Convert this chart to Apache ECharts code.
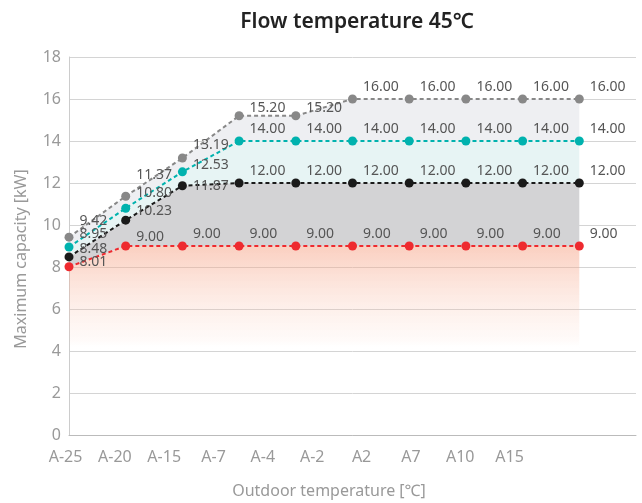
<!DOCTYPE html>
<html><head><meta charset="utf-8">
<script src="https://cdn.jsdelivr.net/npm/echarts@6/dist/echarts.min.js"></script>
<style>html,body{margin:0;padding:0;background:#fff}#c{width:642px;height:503px}</style>
</head><body><div id="c"></div>
<script>
const categories = ['A-25','A-20','A-15','A-7','A-4','A-2','A2','A7','A10','A15'];
const grayValues = [9.42, 11.37, 13.19, 15.20, 15.20, 16.00, 16.00, 16.00, 16.00, 16.00];
const cyanValues = [8.95, 10.80, 12.53, 14.00, 14.00, 14.00, 14.00, 14.00, 14.00, 14.00];
const blackValues = [8.48, 10.23, 11.87, 12.00, 12.00, 12.00, 12.00, 12.00, 12.00, 12.00];
const redValues = [8.01, 9.00, 9.00, 9.00, 9.00, 9.00, 9.00, 9.00, 9.00, 9.00];
const yTicks = [0, 2, 4, 6, 8, 10, 12, 14, 16, 18];

// label vertical offsets (style only)
const labelDy = {
  gray: {0: -4, 1: -9, 2: -1, 3: 4, 4: 4},
  cyan: {0: -1, 1: -3, 2: 5},
  black: {0: 4, 1: 3, 2: 12},
  red: {0: 7, 1: 3}
};

const FONT = 'Noto Sans';
const plotCats = categories.concat(['']);

function lineSeries(name, vals, color, key) {
  return {
    name, type: 'line', xAxisIndex: 0, yAxisIndex: 0, z: 5,
    data: vals.map((v, i) => ({
      value: v,
      label: { offset: [0, -12 + (labelDy[key][i] || 0)] }
    })),
    symbol: 'circle', symbolSize: 9,
    itemStyle: { color },
    lineStyle: { color, width: 2, type: [4, 3] },
    label: {
      show: true, position: 'right', distance: 6,
      formatter: p => p.value.toFixed(2),
      color: '#555', fontSize: 14, fontFamily: FONT
    },
    animation: false
  };
}
function areaSeries(vals, fill) {
  return {
    type: 'line', stack: 'bands', xAxisIndex: 0, yAxisIndex: 0, z: 1,
    data: vals, symbol: 'none', showSymbol: false,
    lineStyle: { width: 0, opacity: 0 },
    areaStyle: { color: fill, opacity: 1 },
    label: { show: false }, silent: true, animation: false
  };
}
const diff = (a, b) => a.map((v, i) => +(v - b[i]).toFixed(4));

const chart = echarts.init(document.getElementById('c'));
chart.setOption({
  animation: false,
  title: [
    { text: 'Flow temperature 45℃', left: 352, top: 7, textAlign: 'center',
      textStyle: { fontFamily: FONT, fontSize: 21, fontWeight: 600, color: '#222' } },
    { text: 'Outdoor temperature [℃]', left: 324, top: 478, textAlign: 'center',
      textStyle: { fontFamily: FONT, fontSize: 16, fontWeight: 'normal', color: '#999' } }
  ],
  grid: [
    { left: 69, right: 6, top: 57, bottom: 68 },
    { left: 65.5, right: 132.4, top: 57, bottom: 68 }
  ],
  xAxis: [
    { type: 'category', gridIndex: 0, data: plotCats, boundaryGap: false,
      axisLine: { show: true, lineStyle: { color: '#bbb' } }, axisTick: { show: false },
      axisLabel: { show: false }, splitLine: { show: false } },
    { type: 'category', gridIndex: 1, data: categories, boundaryGap: false,
      axisLine: { show: false }, axisTick: { show: false }, position: 'bottom',
      axisLabel: { color: '#999', fontSize: 16, fontFamily: FONT, margin: 14, interval: 0 },
      splitLine: { show: false } }
  ],
  yAxis: [
    { type: 'value', gridIndex: 0, min: yTicks[0], max: yTicks[yTicks.length - 1], interval: 2,
      name: 'Maximum capacity [kW]', nameLocation: 'middle', nameGap: 40, nameRotate: 90,
      nameTextStyle: { color: '#999', fontSize: 16, fontFamily: FONT, padding: [0, 0, 0, -26] },
      axisLine: { show: true, lineStyle: { color: '#ccc' } }, axisTick: { show: false },
      axisLabel: { color: '#999', fontSize: 16, fontFamily: FONT, margin: 8 },
      splitLine: { show: true, lineStyle: { color: '#d4d4d4', width: 1 } } },
    { type: 'value', gridIndex: 1, min: 0, max: 18, show: false }
  ],
  series: [
    areaSeries(redValues, {
      type: 'linear', x: 0, y: 0, x2: 0, y2: 1,
      colorStops: [
        { offset: 0, color: 'rgba(246,160,130,0.5)' },
        { offset: 0.5, color: 'rgba(250,200,180,0.08)' },
        { offset: 0.55, color: 'rgba(255,255,255,0)' },
        { offset: 1, color: 'rgba(255,255,255,0)' }
      ]
    }),
    areaSeries(diff(blackValues, redValues), '#d3d3d5'),
    areaSeries(diff(cyanValues, blackValues), '#e7f4f4'),
    areaSeries(diff(grayValues, cyanValues), '#eeeff2'),
    lineSeries('gray', grayValues, '#888888', 'gray'),
    lineSeries('cyan', cyanValues, '#00b2ae', 'cyan'),
    lineSeries('black', blackValues, '#1a1a1a', 'black'),
    lineSeries('red', redValues, '#ee2a2f', 'red')
  ]
});
</script></body></html>
